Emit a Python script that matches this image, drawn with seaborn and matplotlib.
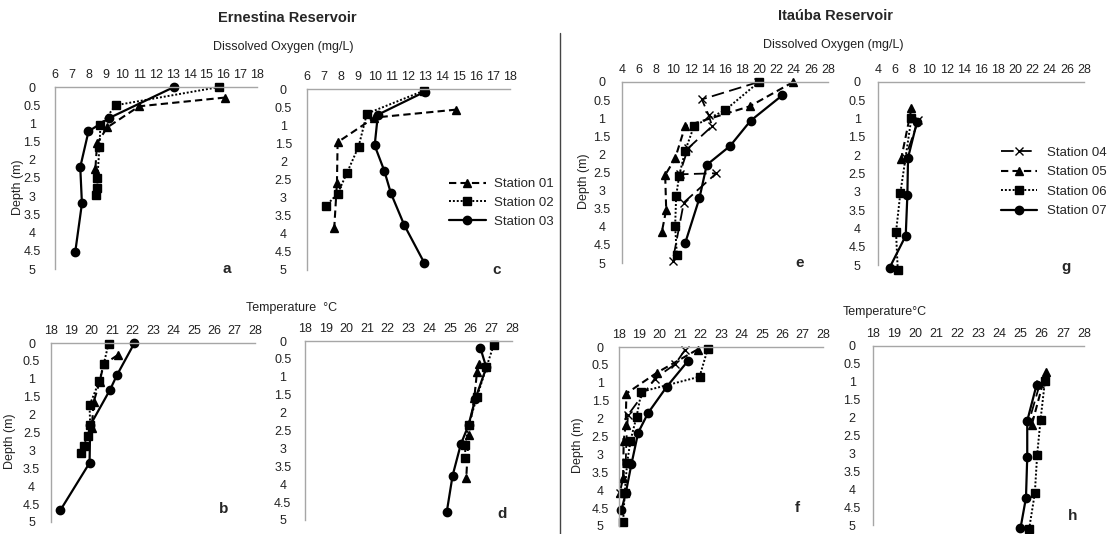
import matplotlib
matplotlib.use("Agg")
import matplotlib.pyplot as plt
from matplotlib.lines import Line2D
import seaborn as sns

sns.set_theme(style="white")
plt.rcParams["font.family"] = ["Liberation Sans", "DejaVu Sans"]

# ---------------- data (value, depth) ----------------
# Panel a : Ernestina, dissolved oxygen
a_st01_x = [16.1, 11.0, 9.1, 8.5, 8.4]
a_st01_y = [0.29, 0.53, 1.11, 1.55, 2.24]
a_st02_x = [15.76, 9.62, 8.7, 8.64, 8.52, 8.52, 8.44]
a_st02_y = [0.0, 0.5, 1.04, 1.64, 2.5, 2.77, 2.96]
a_st03_x = [13.07, 9.23, 7.99, 7.5, 7.6, 7.2]
a_st03_y = [0.0, 0.85, 1.22, 2.2, 3.2, 4.54]

# Panel c : Ernestina, dissolved oxygen
c_st01_x = [14.82, 9.98, 7.81, 7.77, 7.61]
c_st01_y = [0.57, 0.79, 1.47, 2.6, 3.84]
c_st02_x = [12.89, 9.54, 9.05, 8.36, 7.81, 7.14]
c_st02_y = [0.05, 0.68, 1.59, 2.32, 2.89, 3.22]
c_st03_x = [12.99, 10.19, 10.0, 10.57, 10.96, 11.75, 12.93]
c_st03_y = [0.07, 0.71, 1.56, 2.26, 2.88, 3.76, 4.8]

# Panel b : Ernestina, temperature
b_st01_x = [21.26, 20.58, 20.38, 20.09, 20.0]
b_st01_y = [0.34, 0.6, 1.09, 1.65, 2.37]
b_st02_x = [20.82, 20.58, 20.37, 19.89, 19.92, 19.79, 19.6, 19.48]
b_st02_y = [0.02, 0.6, 1.06, 1.74, 2.3, 2.6, 2.89, 3.07]
b_st03_x = [22.09, 21.23, 20.9, 19.92, 19.89, 18.46]
b_st03_y = [0.0, 0.9, 1.3, 2.3, 3.35, 4.67]

# Panel d : Ernestina, temperature
d_st01_x = [26.39, 26.31, 26.18, 25.9, 25.79]
d_st01_y = [0.65, 0.86, 1.58, 2.63, 3.84]
d_st02_x = [27.11, 26.76, 26.31, 25.9, 25.74, 25.74]
d_st02_y = [0.12, 0.74, 1.56, 2.35, 2.91, 3.28]
d_st03_x = [26.47, 26.76, 26.23, 25.9, 25.53, 25.13, 24.85]
d_st03_y = [0.19, 0.74, 1.61, 2.35, 2.88, 3.76, 4.77]

# Panel e : Itauba, dissolved oxygen
e_st04_x = [19.9, 13.3, 14.1, 14.5, 11.7, 10.7, 15.0, 11.2, 9.9]
e_st04_y = [0.0, 0.48, 0.92, 1.22, 1.83, 2.55, 2.52, 3.33, 4.95]
e_st05_x = [23.94, 18.9, 11.36, 10.19, 9.03, 9.15, 8.65]
e_st05_y = [0.0, 0.67, 1.22, 2.11, 2.57, 3.53, 4.13]
e_st06_x = [19.95, 16.0, 12.4, 11.36, 10.66, 10.31, 10.19, 10.39]
e_st06_y = [0.0, 0.78, 1.21, 1.9, 2.59, 3.15, 3.99, 4.77]
e_st07_x = [22.66, 18.98, 16.58, 13.87, 13.02, 11.36]
e_st07_y = [0.37, 1.07, 1.77, 2.29, 3.21, 4.45]

# Panel g : Itauba, dissolved oxygen
g_st04_x = [8.7, 7.2]
g_st04_y = [1.05, 2.05]
g_st05_x = [7.9, 6.7]
g_st05_y = [0.72, 2.1]
g_st06_x = [7.9, 6.6, 6.1, 6.3]
g_st06_y = [0.97, 3.04, 4.1, 5.13]
g_st07_x = [8.55, 7.5, 7.42, 7.23, 5.36]
g_st07_y = [1.08, 2.07, 3.1, 4.2, 5.07]

# Panel f : Itauba, temperature
f_st04_x = [21.25, 20.75, 19.76, 18.44, 18.36, 18.33, 18.03]
f_st04_y = [0.07, 0.48, 0.88, 1.9, 2.64, 3.25, 4.08]
f_st05_x = [21.85, 19.85, 18.36, 18.33, 18.23, 18.2, 18.03]
f_st05_y = [0.07, 0.72, 1.3, 2.18, 2.62, 3.66, 4.08]
f_st06_x = [22.35, 21.95, 19.1, 18.86, 18.56, 18.4, 18.28, 18.2]
f_st06_y = [0.05, 0.83, 1.25, 1.95, 2.62, 3.23, 4.08, 4.9]
f_st07_x = [21.38, 20.34, 19.43, 18.94, 18.61, 18.33, 18.12]
f_st07_y = [0.39, 1.11, 1.84, 2.39, 3.27, 4.08, 4.56]

# Panel h : Itauba, temperature
h_st04_x = [25.9, 25.4]
h_st04_y = [1.07, 2.09]
h_st05_x = [26.2, 25.52]
h_st05_y = [0.72, 2.21]
h_st06_x = [26.15, 25.94, 25.78, 25.67, 25.4]
h_st06_y = [0.97, 2.06, 3.04, 4.11, 5.11]
h_st07_x = [25.75, 25.31, 25.31, 25.25, 24.99]
h_st07_y = [1.09, 2.09, 3.1, 4.24, 5.09]

depth_ticks = [0, 0.5, 1, 1.5, 2, 2.5, 3, 3.5, 4, 4.5, 5]
depth_labels = ["0", "0.5", "1", "1.5", "2", "2.5", "3", "3.5", "4", "4.5", "5"]
ern_do_ticks = list(range(6, 19))
ita_do_ticks = list(range(4, 29, 2))
temp_ticks = list(range(18, 29))

ern_labels = ["Station 01", "Station 02", "Station 03"]
ita_labels = ["Station 04", "Station 05", "Station 06", "Station 07"]

# ---------------- styles ----------------
STY = {
    "01": dict(marker="^", linestyle=(0, (3.5, 2)), lw=1.5, markersize=6),
    "05": dict(marker="^", linestyle=(0, (3.5, 2)), lw=1.5, markersize=6),
    "02": dict(marker="s", linestyle=(0, (1, 1)), lw=1.4, markersize=5.5),
    "06": dict(marker="s", linestyle=(0, (1, 1)), lw=1.4, markersize=5.5),
    "03": dict(marker="o", linestyle="-", lw=1.6, markersize=6),
    "07": dict(marker="o", linestyle="-", lw=1.6, markersize=6),
    "04": dict(marker="x", linestyle=(0, (7, 3)), lw=1.3, markersize=6),
}

W, H = 1108, 534
fig = plt.figure(figsize=(W / 100, H / 100), dpi=100)


def rect(left, right, top, bottom):
    return [left / W, 1 - bottom / H, (right - left) / W, (bottom - top) / H]


GRAY = "#a6a6a6"


def setup(ax, xticks, ypad, letter, lpos, ylabel=None, ylab_x=None):
    ax.set_xlim(xticks[0], xticks[-1])
    ax.set_ylim(5, 0)
    ax.xaxis.tick_top()
    ax.set_xticks(xticks)
    ax.set_xticklabels([str(t) for t in xticks])
    ax.set_yticks(depth_ticks)
    ax.set_yticklabels(depth_labels)
    ax.tick_params(axis="x", length=0, pad=4, labelsize=9, colors="#222222")
    ax.tick_params(axis="y", length=0, pad=ypad, labelsize=9, colors="#222222")
    for lab in ax.get_yticklabels():
        lab.set_horizontalalignment("center")
    for s in ["right", "bottom"]:
        ax.spines[s].set_visible(False)
    for s in ["left", "top"]:
        ax.spines[s].set_color(GRAY)
        ax.spines[s].set_linewidth(1.0)
    ax.set_xlabel("")
    if ylabel:
        ax.set_ylabel(ylabel, fontsize=9, color="#222222")
        ax.yaxis.set_label_coords(ylab_x, 0.45)
    else:
        ax.set_ylabel("")
    ax.text(lpos[0], lpos[1], letter, transform=ax.transAxes, fontsize=11,
            fontweight="bold", ha="center", va="center")
    ax.grid(False)
    ax.set_facecolor("none")


def draw(ax, series):
    for key, xs, ys in series:
        sns.lineplot(x=xs, y=ys, sort=False, estimator=None, ax=ax,
                     color="black", markeredgecolor="black",
                     markerfacecolor="black", clip_on=False,
                     markeredgewidth=1.0, **STY[key])


panels = [
    ("a", (0.85, 0.0), rect(55, 257, 87, 269), ern_do_ticks, 16.5, "Depth (m)", -0.155,
     [("01", a_st01_x, a_st01_y), ("02", a_st02_x, a_st02_y), ("03", a_st03_x, a_st03_y)]),
    ("c", (0.936, 0.0), rect(307, 510, 89, 270), ern_do_ticks, 17, None, None,
     [("01", c_st01_x, c_st01_y), ("02", c_st02_x, c_st02_y), ("03", c_st03_x, c_st03_y)]),
    ("e", (0.864, 0.0), rect(622, 828, 82, 263), ita_do_ticks, 14.5, "Depth (m)", -0.155,
     [("04", e_st04_x, e_st04_y), ("05", e_st05_x, e_st05_y),
      ("06", e_st06_x, e_st06_y), ("07", e_st07_x, e_st07_y)]),
    ("g", (0.913, -0.01), rect(878, 1084, 82, 265), ita_do_ticks, 15, None, None,
     [("04", g_st04_x, g_st04_y), ("05", g_st05_x, g_st05_y),
      ("06", g_st06_x, g_st06_y), ("07", g_st07_x, g_st07_y)]),
    ("b", (0.848, 0.073), rect(51, 255, 343, 522), temp_ticks, 14, "Depth (m)", -0.17,
     [("01", b_st01_x, b_st01_y), ("02", b_st02_x, b_st02_y), ("03", b_st03_x, b_st03_y)]),
    ("d", (0.952, 0.034), rect(305, 512, 341, 520), temp_ticks, 16, None, None,
     [("01", d_st01_x, d_st01_y), ("02", d_st02_x, d_st02_y), ("03", d_st03_x, d_st03_y)]),
    ("f", (0.873, 0.10), rect(619, 823, 347, 526), temp_ticks, 13.5, "Depth (m)", -0.17,
     [("04", f_st04_x, f_st04_y), ("05", f_st05_x, f_st05_y),
      ("06", f_st06_x, f_st06_y), ("07", f_st07_x, f_st07_y)]),
    ("h", (0.948, 0.05), rect(873, 1084, 346, 525), temp_ticks, 15, None, None,
     [("04", h_st04_x, h_st04_y), ("05", h_st05_x, h_st05_y),
      ("06", h_st06_x, h_st06_y), ("07", h_st07_x, h_st07_y)]),
]

for letter, lpos, r, xt, ypad, ylab, ylx, series in panels:
    ax = fig.add_axes(r)
    draw(ax, series)
    setup(ax, xt, ypad, letter, lpos, ylab, ylx)

# ---------------- titles ----------------
fig.text(287 / W, 1 - 18 / H, "Ernestina Reservoir", ha="center", va="center",
         fontsize=10.5, fontweight="bold")
fig.text(836 / W, 1 - 16 / H, "Itaúba Reservoir", ha="center", va="center",
         fontsize=10.5, fontweight="bold")
fig.text(283 / W, 1 - 47 / H, "Dissolved Oxygen (mg/L)", ha="center", va="center",
         fontsize=9, color="#222222")
fig.text(833 / W, 1 - 45 / H, "Dissolved Oxygen (mg/L)", ha="center", va="center",
         fontsize=9, color="#222222")
fig.text(292 / W, 1 - 308 / H, "Temperature  °C", ha="center", va="center",
         fontsize=9, color="#222222")
fig.text(885 / W, 1 - 312 / H, "Temperature°C", ha="center", va="center",
         fontsize=9, color="#222222")

# divider
fig.add_artist(Line2D([560 / W, 560 / W], [0, 1 - 33 / H], transform=fig.transFigure,
                      color="#444444", lw=1.0))


# ---------------- legends ----------------
def handle(key):
    return Line2D([], [], color="black", markerfacecolor="black",
                  markeredgecolor="black", **STY[key])


fig.legend([handle("01"), handle("02"), handle("03")], ern_labels,
           loc="center left", bbox_to_anchor=(449 / W, 1 - 203 / H),
           frameon=False, fontsize=9.5, handlelength=2.8, handletextpad=0.6,
           labelspacing=0.5, borderpad=0, borderaxespad=0)
fig.legend([handle("04"), handle("05"), handle("06"), handle("07")], ita_labels,
           loc="center left", bbox_to_anchor=(1001 / W, 1 - 182 / H),
           frameon=False, fontsize=9.5, handlelength=2.7, handletextpad=0.8,
           labelspacing=0.55, borderpad=0, borderaxespad=0)

fig.savefig("out.png", dpi=100)
